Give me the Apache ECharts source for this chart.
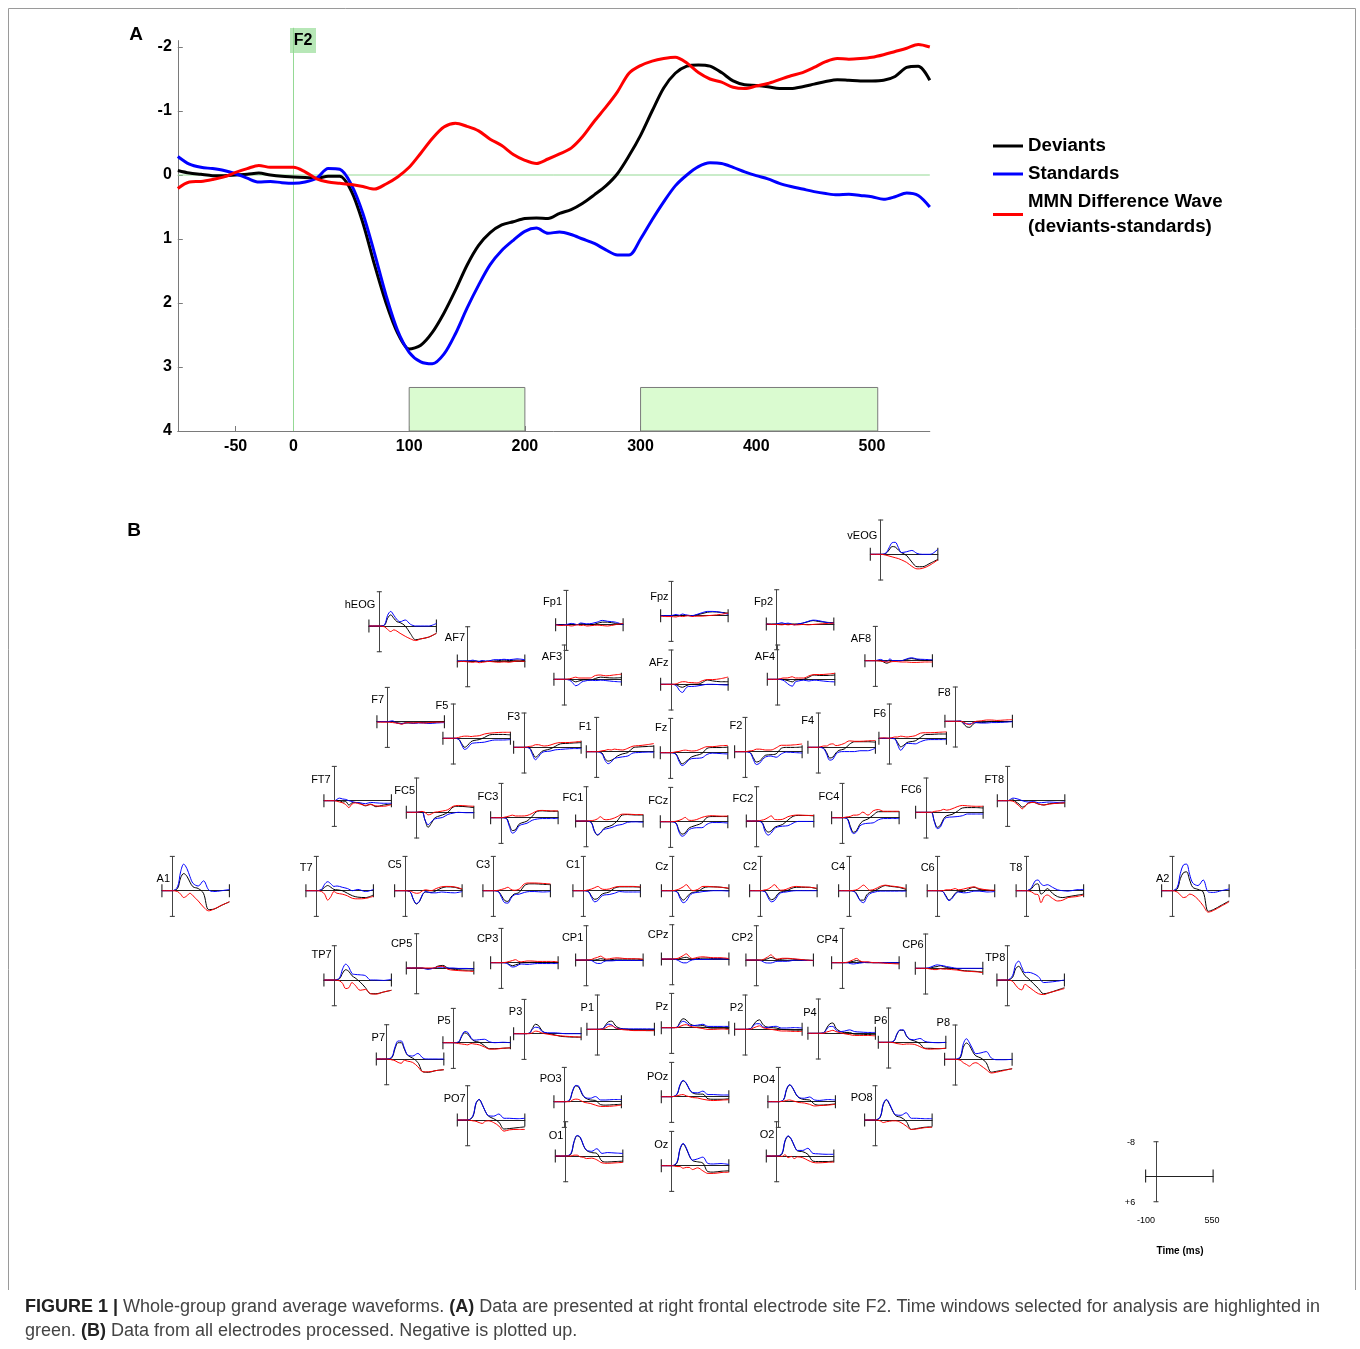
<!DOCTYPE html>
<html><head><meta charset="utf-8">
<script src="https://cdn.jsdelivr.net/npm/echarts@6/dist/echarts.min.js"></script>
<style>html,body{margin:0;padding:0;background:#fff}#c{width:1360px;height:1349px}</style>
</head><body><div id="c"></div><script>
// ---------- Panel A : electrode F2 ----------
const mainTimes = [-100,-90,-80,-70,-60,-50,-40,-30,-20,-10,0,10,20,30,40,50,60,70,80,90,100,110,120,130,140,150,160,170,180,190,200,210,220,230,240,250,260,270,280,290,300,310,320,330,340,350,360,370,380,390,400,410,420,430,440,450,460,470,480,490,500,510,520,530,540,550];
const f2Deviants = [-0.07,-0.03,-0.01,0.01,0.01,0.00,-0.01,-0.03,0.00,0.02,0.03,0.04,0.05,0.02,0.02,0.25,0.75,1.40,2.00,2.47,2.72,2.66,2.46,2.16,1.80,1.41,1.10,0.90,0.78,0.73,0.68,0.67,0.68,0.60,0.54,0.44,0.31,0.17,-0.02,-0.30,-0.62,-1.00,-1.36,-1.59,-1.70,-1.72,-1.70,-1.60,-1.47,-1.41,-1.40,-1.38,-1.35,-1.35,-1.38,-1.42,-1.46,-1.49,-1.48,-1.47,-1.47,-1.48,-1.54,-1.68,-1.70,-1.48];
const f2Standards = [-0.29,-0.17,-0.12,-0.10,-0.07,-0.02,0.05,0.11,0.10,0.12,0.13,0.11,0.05,-0.10,-0.09,0.15,0.60,1.22,1.88,2.43,2.77,2.92,2.95,2.80,2.48,2.08,1.72,1.40,1.18,1.02,0.88,0.83,0.91,0.89,0.93,1.00,1.07,1.17,1.25,1.25,1.00,0.70,0.42,0.17,0.00,-0.13,-0.19,-0.18,-0.12,-0.05,0.01,0.06,0.13,0.18,0.22,0.26,0.29,0.31,0.30,0.32,0.34,0.38,0.34,0.28,0.32,0.50];
const f2MMN = [0.21,0.11,0.10,0.07,0.03,-0.04,-0.10,-0.15,-0.12,-0.12,-0.12,-0.05,0.06,0.11,0.13,0.15,0.18,0.22,0.14,0.03,-0.12,-0.34,-0.57,-0.75,-0.81,-0.76,-0.69,-0.56,-0.46,-0.32,-0.23,-0.18,-0.25,-0.33,-0.42,-0.60,-0.84,-1.06,-1.30,-1.59,-1.71,-1.78,-1.82,-1.84,-1.75,-1.60,-1.50,-1.45,-1.37,-1.35,-1.39,-1.43,-1.49,-1.55,-1.60,-1.68,-1.77,-1.82,-1.81,-1.82,-1.84,-1.88,-1.93,-1.98,-2.04,-2.00];
const analysisWindows = [[100,200],[300,505]];
const yTicks = [-2,-1,0,1,2,3,4];
const xTicks = [-50,0,100,200,300,400,500];

// ---------- Panel B : all electrodes ----------
const electrodes = ['hEOG','vEOG','Fp1','Fpz','Fp2','AF7','AF3','AFz','AF4','AF8','F7','F5','F3','F1','Fz','F2','F4','F6','F8','FT7','FC5','FC3','FC1','FCz','FC2','FC4','FC6','FT8','A1','T7','C5','C3','C1','Cz','C2','C4','C6','T8','A2','TP7','CP5','CP3','CP1','CPz','CP2','CP4','CP6','TP8','P7','P5','P3','P1','Pz','P2','P4','P6','P8','PO7','PO3','POz','PO4','PO8','O1','Oz','O2'];
const miniTimes = [-100,-50,0,50,80,110,140,170,200,250,300,350,400,475,550];
const miniDeviants = [
[0,0,0,-0.2,-1.8,-2.6,-1.8,-1.0,-0.8,0,1.8,3.2,3.0,2.6,1.7],
[0,0,0,-0.2,-1.0,-1.8,-1.7,-1.0,-0.4,0.3,1.8,2.9,2.9,2.1,1.2],
[0,0,0,0,0,0,-0.2,-0.2,0,0,-0.3,-0.6,-0.6,-0.3,-0.2],
[0,0,0,0,0,-0.1,-0.1,0,0,-0.2,-0.5,-0.8,-0.9,-0.8,-0.6],
[0,0,0,0,0,0,0,0,0,-0.2,-0.5,-0.8,-0.6,-0.4,-0.3],
[0,0,0,0,0,0.1,0,0.1,0,0,-0.1,-0.2,-0.1,-0.2,-0.1],
[0,0,0,0,0.3,0.6,0.4,0.2,0.1,0.2,-0.2,-0.5,-0.4,-0.3,-0.4],
[0,0,0,0.1,0.5,0.7,0.4,0.1,0,0,-0.4,-1.0,-0.8,-0.6,-0.6],
[0,0,0,0,0.2,0.4,0.6,0.2,0.1,0,-0.5,-1.0,-0.9,-0.9,-1.0],
[0,0,0,0,0.3,0.6,0.3,0,0,0,-0.3,-0.5,-0.3,-0.1,-0.1],
[0,0,0,0,0.2,0.3,0.4,0.3,0.3,0.3,0.2,0.2,0.3,0.1,0],
[0,0,0,0.2,1.2,2.1,1.6,0.8,0.5,0.3,-0.2,-0.8,-0.9,-0.9,-0.8],
[0,0,0,0.1,1.2,2.3,1.8,1.0,0.7,0.4,-0.2,-0.8,-0.9,-1.0,-1.1],
[0,0,0,0.3,1.6,2.2,2.0,1.6,1.0,0.5,0.2,-0.9,-1.1,-1.2,-1.3],
[0,0,0,0.3,1.6,2.6,2.2,1.6,1.0,0.6,0.2,-1.0,-1.2,-1.2,-1.3],
[0,0,0,0.2,1.4,2.4,2.2,1.4,0.8,0.7,0.5,-0.8,-1.0,-1.0,-1.1],
[0,0,0,0.2,1.2,2.5,2.3,1.3,0.7,0.4,-0.7,-1.3,-1.3,-1.3,-1.2],
[0,0,0,0.1,1.0,2.0,1.6,1.0,0.8,0.6,-0.2,-0.9,-0.9,-1.0,-1.0],
[0,0,0,0,0.6,1.3,1.4,0.7,0.3,0.3,0.2,0,0.1,0.1,0],
[0,0,0,0,0.3,0.2,1.0,0.5,0.4,0.6,1.2,0.8,1.4,1.0,0.8],
[0,0,0,-0.1,1.8,3.5,2.6,1.4,1.0,0.6,0,-1.2,-1.4,-1.3,-1.1],
[0,0,0,0.1,1.6,3.0,2.8,1.6,1.2,0.8,-0.3,-1.5,-1.6,-1.5,-1.5],
[0,0,0,0.3,2.2,3.3,2.8,1.8,1.4,1.0,0,-1.4,-1.5,-1.4,-1.4],
[0,0,0,0.3,2.0,2.9,2.6,1.6,1.2,0.8,0.3,-1.0,-1.2,-1.2,-1.2],
[0,0,0,0.3,1.8,2.6,2.3,1.5,1.2,0.8,-0.2,-1.1,-1.3,-1.3,-1.2],
[0,0,0,0.2,2.0,3.4,3.0,1.6,0.8,0.3,-0.6,-1.4,-1.4,-1.4,-1.4],
[0,0,0,0,2.0,3.5,3.0,1.5,0.8,0.5,-0.2,-1.0,-1.1,-1.1,-1.0],
[0,0,0,-0.2,0.3,0.8,1.5,1.2,0.5,0.4,0.8,1.0,0.7,0.6,0.5],
[0,0,0,-0.5,-3.0,-4.0,-3.4,-2.0,-0.9,-0.5,0.6,4.4,4.3,3.4,2.6],
[0,0,0,-0.2,-0.8,-1.2,-0.8,-0.3,-0.2,0,0.6,1.2,1.5,1.6,1.0],
[0,0,0,0.3,2.0,3.1,2.5,0.9,0.3,0.4,0,-0.6,-0.9,-0.8,-0.3],
[0,0,0,0.2,1.2,2.3,2.5,1.5,0.8,0.4,-1.2,-1.6,-1.6,-1.5,-1.4],
[0,0,0,0.2,1.3,2.0,1.8,1.0,0.6,0.3,-0.6,-0.9,-0.9,-0.9,-0.8],
[0,0,0,0.2,1.4,2.2,1.6,0.8,0.4,0.2,-0.6,-0.9,-0.9,-0.8,-0.5],
[0,0,0,0.2,1.3,2.1,1.8,0.8,0.3,0.1,-0.5,-0.8,-0.8,-0.8,-0.4],
[0,0,0,0.1,1.0,2.2,2.2,1.0,0.4,0,-0.7,-1.2,-1.0,-0.8,-0.3],
[0,0,0,0.2,1.2,2.2,1.6,0.6,0.2,0.2,-0.4,-0.8,-0.3,-0.1,0],
[0,0,0,-0.5,-1.4,-1.6,0.8,0.3,-0.5,0.6,1.4,1.6,1.4,1.1,0.8],
[0,0,0,-0.4,-2.8,-4.2,-4.4,-2.5,-0.8,-0.3,0.3,4.8,4.4,3.4,2.4],
[0,0,0,-0.3,-1.6,-2.4,-2.0,-1.0,-0.5,0.5,1.8,3.2,3.2,2.8,2.4],
[0,0,0,0,0.1,0.2,0.1,0,-0.4,-0.6,0,0.3,0.4,0.5,0.5],
[0,0,0,0,0.4,0.7,0.5,0.3,0,0,-0.1,-0.1,0,0,0],
[0,0,0,0,0,-0.1,-0.3,-0.2,0,-0.1,-0.2,-0.2,-0.2,-0.2,-0.1],
[0,0,0,0,-0.1,-0.3,-0.4,-0.1,0,-0.1,-0.2,-0.2,-0.1,-0.1,0],
[0,0,0,0,-0.1,-0.3,-0.6,-0.4,-0.1,-0.2,-0.3,-0.2,-0.1,0,0.1],
[0,0,0,0,-0.2,-0.3,-0.5,-0.3,-0.1,0,0,0,0,0.1,0.1],
[0,0,0,-0.1,-0.3,-0.4,-0.6,-0.4,-0.2,0,0.2,0.5,0.6,0.7,0.9],
[0,0,0,-0.6,-2.6,-3.2,-2.2,-1.0,-0.4,0.8,2.0,3.2,3.0,2.4,1.8],
[0,0,0,-0.3,-2.4,-3.8,-3.8,-2.3,-0.9,-0.2,0.8,3.0,3.1,2.7,2.5],
[0,0,0,-0.1,-1.4,-2.3,-2.0,-1.0,-0.4,-0.1,0.7,1.4,1.4,1.3,1.2],
[0,0,0,-0.1,-1.2,-2.2,-1.9,-0.8,-0.2,0,0.3,0.6,0.7,0.8,0.8],
[0,0,0,-0.1,-1.0,-1.8,-1.9,-1.0,-0.4,-0.1,0,0.2,0.2,0.3,0.3],
[0,0,0,-0.1,-1.3,-2.1,-1.8,-1.0,-0.6,-0.4,-0.5,0,0.1,0.1,0.2],
[0,0,0,-0.1,-1.0,-1.9,-2.2,-1.2,-0.6,-0.4,-0.3,0,0.1,0.2,0.2],
[0,0,0,-0.1,-1.2,-2.2,-2.4,-1.2,-0.6,-0.2,-0.2,0.2,0.2,0.3,0.3],
[0,0,0,-0.3,-1.9,-2.8,-2.8,-1.5,-0.7,-0.3,0.3,1.4,1.4,1.5,1.4],
[0,0,0,-0.3,-2.8,-3.8,-3.2,-1.8,-0.8,-0.3,0.8,3.0,2.8,2.5,2.2],
[0,0,0,-0.8,-3.8,-4.8,-3.6,-2.0,-0.9,-0.3,0.5,2.1,2.0,1.8,1.6],
[0,0,0,-0.3,-2.4,-3.7,-3.4,-1.8,-0.9,-0.4,-0.3,0.7,0.8,0.7,0.6],
[0,0,0,-0.5,-2.6,-3.7,-3.1,-1.7,-0.9,-0.6,-0.6,0.5,0.6,0.6,0.5],
[0,0,0,-0.4,-2.8,-3.9,-3.1,-1.7,-0.9,-0.5,-0.4,0.6,0.8,0.7,0.5],
[0,0,0,-0.6,-3.6,-4.7,-3.6,-2.1,-1.0,-0.6,0.3,2.2,2.0,1.7,1.6],
[0,0,0,-0.4,-3.2,-4.7,-4.3,-2.5,-1.3,-0.8,-0.6,1.2,1.4,1.3,1.2],
[0,0,0,-0.6,-3.8,-5.1,-4.0,-2.3,-1.2,-0.9,-0.6,1.4,1.5,1.3,1.2],
[0,0,0,-0.4,-3.4,-4.6,-3.9,-2.3,-1.2,-1.0,-0.4,1.2,1.3,1.3,1.2]
];
const miniStandards = [
[0,0,0,-0.3,-2.5,-3.4,-2.5,-1.5,-1.0,-1.4,-0.4,0,0,0,-0.6],
[0,0,0,-0.3,-1.5,-2.7,-2.8,-1.6,-0.4,-0.6,-0.9,-0.2,0,0,-1.2],
[0,0.1,0,-0.3,-0.2,0,-0.4,-0.3,-0.2,-0.3,-0.6,-1.0,-0.8,-0.6,0],
[0,0,0,-0.3,-0.1,-0.4,-0.2,-0.1,0,-0.3,-0.7,-1.0,-1.0,-0.8,-0.3],
[0,0.1,0,-0.3,-0.1,-0.2,0,0.2,0,-0.2,-0.6,-0.9,-0.8,-0.4,-0.2],
[0,0,0,-0.2,0,0.1,-0.1,0,0,-0.3,-0.3,-0.4,-0.3,-0.5,-0.3],
[0,0,0,0.2,0.8,1.5,1.2,0.6,0.4,0.2,0.3,0.2,0.3,0.5,0.6],
[0,0,0,0.3,1.4,1.9,1.0,0.5,0.5,0.4,0.2,0,0,0.1,0.2],
[0,0,0,0.2,0.7,1.3,1.6,0.6,0.4,0.2,0.4,0.2,0.3,0.5,0.6],
[0,0,0,-0.3,0,0.2,-0.4,0,0,0,-0.4,-0.7,-0.4,-0.3,-0.2],
[0,0,0,-0.2,0.2,0.4,0.5,0.3,0.2,0.4,0.3,0.3,0.4,0.3,0.2],
[0,0,0,0.2,1.5,2.6,2.2,1.3,1.1,1.0,0.9,0.6,0.4,0.4,0.3],
[0,0,0,0.2,1.6,2.9,2.2,1.3,1.0,0.9,0.6,0.5,0.4,0.3,0.3],
[0,0,0,0.5,2.0,2.8,2.4,1.6,1.4,1.2,1.0,0.3,0.2,0.1,0.1],
[0,0,0,0.4,2.0,3.0,2.6,1.8,1.4,1.3,1.2,0.4,0.1,0.2,0.3],
[0,0,0,0.3,1.8,3.0,2.7,1.8,1.2,1.0,1.3,0.5,0.1,0.2,0.3],
[0,0,0,0.3,1.6,3.0,2.8,1.6,1.1,1.0,1.0,1.0,0.8,0.8,0.2],
[0,0,0,0.1,1.5,2.8,2.0,1.2,1.2,1.3,0.8,0.4,0.3,0.3,0.3],
[0,0,0,-0.1,0.4,0.6,0.6,0.4,0.3,0.4,0.4,0.3,0.3,0.2,0.1],
[0,0,0,-0.6,-0.4,-0.3,0,0.2,0.4,0.5,0.7,0.4,0.5,0.6,0.6],
[0,0,0,-0.2,1.8,2.9,2.2,1.6,1.4,1.2,0.5,0.2,0,0.1,0.1],
[0,0,0,0.2,2.0,3.6,3.2,2.0,1.6,1.3,0.6,0.3,0.2,0.2,0.2],
[0,0,0,0.4,2.4,3.2,2.7,2.0,1.8,1.5,1.0,0.8,0.3,0.2,0.3],
[0,0,0,0.4,2.4,3.4,3.0,2.0,1.6,1.4,1.4,0.6,0.2,0.2,0.3],
[0,0,0,0.4,2.4,3.3,2.8,1.8,1.4,1.2,1.1,0.5,0.1,0.1,0.1],
[0,0,0,0.3,2.4,3.7,3.3,2.0,1.5,1.3,1.2,0.5,0.2,0.2,0.2],
[0,0,0,0,2.2,3.8,3.4,1.8,1.2,1.1,1.0,0.8,0.4,0.4,0.4],
[0,0,0,-0.6,-0.5,-0.3,0,0.2,0.3,0.2,0.5,0.4,0.3,0.4,0.3],
[0,0,0,-0.9,-4.4,-6.2,-5.2,-3.3,-1.7,-1.1,-2.3,-0.2,0.2,0,-0.3],
[0,0,0,-0.3,-1.5,-2.1,-1.6,-1.0,-1.1,-0.8,-0.5,0,-0.3,0.2,-0.3],
[0,0,0,0.3,2.0,3.0,2.4,0.8,0.2,0.5,0.5,0.3,0.4,0.5,0.2],
[0,0,0,0.3,1.6,2.8,2.9,1.8,1.0,0.8,0.4,0.2,0.2,0.3,0.2],
[0,0,0,0.3,1.6,2.6,2.3,1.4,1.0,0.9,0.6,0.2,0.3,0.3,0.3],
[0,0,0,0.3,1.8,2.8,2.4,1.2,0.6,0.4,0.2,0.1,0,0,0.1],
[0,0,0,0.3,1.7,2.6,2.3,1.2,0.5,0.3,0.1,0,0,0,0],
[0,0,0,0.2,1.2,2.4,2.8,1.6,0.7,0.3,0.1,0.1,0.1,0.1,0.1],
[0,0,0,0.2,1.4,2.3,1.8,0.8,0.3,0.5,0.4,0.1,0.1,0.3,0.2],
[0,0,0,-0.8,-2.2,-2.5,-1.6,-1.2,-1.4,-0.8,-0.2,0,0.1,-0.2,-0.3],
[0,0,0,-0.8,-4.0,-6.0,-6.2,-3.8,-1.8,-1.2,-2.5,0.3,0.4,0,-0.4],
[0,0,0,-0.5,-2.6,-3.7,-3.0,-1.5,-1.3,-1.2,-1.0,0,0,0.1,-0.2],
[0,0,0,0,0.2,0.3,0.2,0,-0.2,-0.2,0,0,0.1,0.1,0.2],
[0,0,0,0.1,0.6,1.0,0.9,0.5,0.3,0.4,0.3,0.2,0.2,0.2,0.2],
[0,0,0,0.1,0.5,0.8,0.8,0.4,0.2,0.2,0.1,0.1,0.1,0.1,0.1],
[0,0,0,0.2,0.6,0.9,0.9,0.5,0.2,0.1,0.1,0.1,0,0,0],
[0,0,0,0.2,0.6,0.7,0.7,0.5,0.3,0.3,0.3,0.1,0,0.1,0.1],
[0,0,0,0,0.2,0.3,0.2,0.1,0,-0.1,0,0,0,0,0],
[0,0,0,-0.3,-0.6,-0.8,-0.7,-0.6,-0.4,-0.2,0,0,0,0,0],
[0,0,0,-1.0,-3.6,-4.4,-3.0,-1.7,-1.8,-1.5,-0.8,0.6,0.5,0.3,0],
[0,0,0,-0.5,-2.8,-4.2,-4.2,-2.6,-1.0,-0.7,-1.3,-0.2,0,0,0],
[0,0,0,-0.2,-1.6,-2.6,-2.4,-1.2,-0.6,-0.7,-0.8,-0.2,0,-0.1,0],
[0,0,0,-0.1,-1.0,-1.5,-1.4,-0.6,-0.3,-0.2,-0.2,-0.1,0,0,0],
[0,0,0,-0.1,-0.8,-1.2,-1.0,-0.4,-0.2,-0.1,-0.1,-0.1,-0.1,-0.1,-0.1],
[0,0,0,-0.1,-1.0,-1.5,-1.2,-0.6,-0.5,-0.6,-0.8,-0.3,-0.3,-0.3,-0.3],
[0,0,0,-0.1,-0.8,-1.3,-1.3,-0.6,-0.4,-0.6,-0.7,-0.3,-0.3,-0.4,-0.3],
[0,0,0,-0.1,-0.9,-1.6,-1.6,-0.8,-0.4,-0.5,-0.8,-0.4,-0.3,-0.2,-0.2],
[0,0,0,-0.3,-2.0,-2.9,-2.9,-1.6,-0.8,-0.6,-0.9,-0.2,0,0.1,0],
[0,0,0,-0.6,-3.6,-4.8,-3.8,-2.4,-1.3,-1.5,-1.8,-0.3,0.1,0.1,0],
[0,0,0,-1.0,-4.0,-4.8,-3.6,-2.0,-1.0,-0.9,-1.4,-0.4,-0.4,-0.3,-0.4],
[0,0,0,-0.4,-2.6,-3.8,-3.6,-2.0,-1.0,-0.8,-1.2,-0.4,-0.4,-0.5,-0.5],
[0,0,0,-0.6,-2.8,-3.8,-3.2,-1.8,-1.0,-0.9,-1.3,-0.5,-0.5,-0.4,-0.4],
[0,0,0,-0.5,-3.0,-4.0,-3.2,-1.8,-1.0,-0.8,-1.1,-0.4,-0.3,-0.5,-0.4],
[0,0,0,-0.8,-3.8,-4.8,-3.8,-2.2,-1.2,-1.1,-1.7,-0.4,-0.4,-0.3,-0.3],
[0,0,0,-0.6,-3.4,-4.8,-4.4,-2.6,-1.4,-1.1,-1.7,-0.6,-0.8,-0.7,-0.6],
[0,0,0,-0.8,-4.0,-5.2,-4.2,-2.4,-1.3,-1.6,-2.0,-0.5,-0.4,-0.5,-0.3],
[0,0,0,-0.6,-3.6,-4.7,-4.0,-2.4,-1.3,-1.3,-1.8,-0.6,-0.5,-0.4,-0.4]
];
const miniMMN = [
[0,0,0,0.2,0.8,1.3,0.9,1.2,1.7,2.4,3.0,3.4,3.0,2.6,1.7],
[0,0,0,0.2,0.4,0.6,0.8,1.0,1.3,1.9,2.8,3.4,3.3,2.5,1.3],
[0,0.2,0.1,0.3,0.2,0,0.2,0.1,0.3,0.2,0.1,0.2,0.3,0,-0.3],
[0.1,0.2,0.2,0.3,0.1,0.2,0.1,0,0.2,0.1,0.1,0,-0.1,-0.3,-0.6],
[0,0.1,0.1,0.2,0.1,0.2,0.1,0.2,0.2,0.1,0.2,0.1,0,-0.1,-0.2],
[0.2,0.1,0.2,0.3,0.2,0.4,0.3,0.2,0.1,0.2,0.3,0.2,0.3,0,0.1],
[0,0,0,-0.1,-0.3,-0.5,-0.3,-0.3,-0.3,-0.3,-0.9,-1.0,-0.8,-1.0,-1.2],
[0,0,0,-0.1,-0.4,-0.6,-0.6,-0.4,-0.4,-0.3,-0.8,-1.1,-1.1,-1.3,-1.7],
[0,0,0,-0.3,-0.3,-0.4,-0.6,-0.3,-0.3,-0.3,-0.8,-1.1,-1.1,-1.2,-1.4],
[0,0,0,0.1,0.2,0.3,0.3,0.2,0.2,0.3,0.3,0.4,0.4,0.3,0.3],
[0.1,0.1,0.1,0.2,0.3,0.4,0.6,0.3,0.2,0.3,0.2,0.3,0.2,0.1,0.1],
[0,0,0,-0.2,-0.4,-0.5,-0.5,-0.4,-0.5,-0.6,-1.0,-1.2,-1.3,-1.4,-1.4],
[0,0,0,-0.2,-0.3,-0.6,-0.6,-0.4,-0.3,-0.5,-0.9,-1.1,-1.1,-1.2,-1.4],
[0,0,0,-0.2,-0.3,-0.5,-0.4,-0.6,-0.5,-0.4,-0.8,-1.3,-1.4,-1.6,-1.9],
[0,0,0,-0.2,-0.3,-0.5,-0.6,-0.5,-0.4,-0.5,-1.0,-1.4,-1.4,-1.6,-1.7],
[0,0,0,-0.2,-0.3,-0.6,-0.6,-0.5,-0.4,-0.4,-0.9,-1.5,-1.5,-1.6,-1.8],
[0,0,0,-0.3,-0.3,-0.7,-0.8,-0.4,-0.5,-0.9,-1.5,-1.4,-1.4,-1.5,-1.6],
[0,-0.1,0,-0.3,-0.3,-0.5,-0.4,-0.3,-0.4,-0.6,-1.2,-1.3,-1.3,-1.4,-1.5],
[0,0,0,0,0.2,0.6,0.8,0.3,0,-0.1,-0.3,-0.3,-0.2,-0.3,-0.4],
[0,0,0,0.3,0.5,0.9,1.6,0.8,0.5,0.8,1.1,0.9,1.2,1.3,0.9],
[0,0,0,-0.2,0,0.6,0.4,0,-0.1,-0.3,-0.6,-1.4,-1.6,-1.5,-1.4],
[0,0,0,-0.2,-0.4,-0.6,-0.4,-0.4,-0.4,-0.5,-1.0,-1.6,-1.7,-1.6,-1.6],
[0,0,0,-0.1,-0.2,-0.5,-1.0,-0.4,-0.3,-0.5,-1.0,-1.6,-1.6,-1.5,-1.5],
[0,0,0,-0.1,-0.3,-0.6,-1.0,-0.4,-0.3,-0.5,-1.0,-1.3,-1.4,-1.3,-1.3],
[0,0,0,-0.2,-0.4,-0.8,-1.2,-0.4,-0.3,-0.4,-1.0,-1.3,-1.4,-1.3,-1.3],
[0,0,0,-0.2,-0.3,-0.6,-0.6,-0.8,-1.3,-0.6,-1.6,-1.9,-1.5,-1.5,-1.5],
[0,0,0,0,-0.2,-0.3,-0.4,-0.7,-0.5,-0.8,-1.3,-1.6,-1.5,-1.4,-1.4],
[0,0,0,0.1,0.6,1.2,1.9,1.2,0.6,0.4,0.8,1.0,0.8,0.6,0.5],
[0,0,0,0.2,0.8,1.6,1.2,0.6,1.2,2.4,3.8,4.7,4.3,3.4,2.6],
[0,0,0,0.2,0.8,2.2,1.4,0.2,0.6,0.8,1.2,1.8,1.9,1.8,1.3],
[0,0,0,0.1,0.4,0.6,0.5,0,-0.2,0,-0.5,-0.9,-1.0,-0.9,-0.4],
[0,0,0,-0.1,-0.3,-0.5,-0.8,-0.3,-0.1,-0.4,-1.6,-1.8,-1.8,-1.7,-1.6],
[0,0,0,-0.2,-0.4,-0.7,-1.0,-0.5,-0.3,-0.4,-0.8,-1.0,-1.0,-1.0,-0.9],
[0,0,0,-0.2,-0.5,-0.9,-1.4,-0.6,0,-0.3,-1.0,-1.0,-0.9,-0.8,-0.6],
[0,0,0,-0.2,-0.4,-0.9,-1.4,-0.6,-0.1,-0.3,-0.8,-1.0,-0.9,-0.8,-0.6],
[0,0,0,-0.1,-0.3,-0.8,-1.3,-0.7,-0.1,-0.4,-1.0,-1.3,-1.1,-0.9,-0.5],
[0,0,0,0,-0.2,-0.2,-0.3,-0.5,-0.2,-0.4,-0.7,-0.9,-0.5,-0.2,-0.1],
[0,0,0,0.3,0.8,0.9,2.8,1.4,1.0,1.8,2.4,2.2,1.6,1.4,1.0],
[0,0,0,0.3,1.0,1.6,1.4,0.8,1.0,2.0,3.5,5.0,4.6,3.6,2.6],
[0,0,0,0.2,0.8,2.0,1.8,0.6,1.2,2.4,2.2,3.2,3.3,2.8,2.4],
[0,0,0,0,0,0,0,0,-0.3,-0.4,0.3,0.5,0.6,0.7,0.8],
[0,0,0,-0.1,-0.3,-0.5,-0.7,-0.3,-0.2,-0.4,-0.4,-0.3,-0.3,-0.3,-0.2],
[0,0,0,-0.1,-0.4,-0.6,-0.9,-0.5,-0.2,-0.4,-0.5,-0.4,-0.3,-0.3,-0.2],
[0,0,0,-0.1,-0.4,-0.8,-1.2,-0.5,-0.1,-0.4,-0.5,-0.4,-0.3,-0.3,-0.1],
[0,0,0,0,-0.3,-0.7,-1.2,-0.6,-0.2,-0.4,-0.4,-0.3,-0.2,0,0.1],
[0,0,0,-0.1,-0.4,-0.7,-1.0,-0.5,-0.2,-0.2,0,0,0.1,0.2,0.3],
[0,0,0,0.2,0.3,0.3,0.1,0.2,0.2,0.3,0.4,0.6,0.7,0.8,1.0],
[0,0,0,0.3,1.2,2.0,2.3,1.0,1.5,2.4,3.2,3.4,3.0,2.5,2.0],
[0,0,0,0.2,0.4,0.8,1.0,0.3,0.5,0.8,1.8,3.0,3.0,2.7,2.5],
[0,0,0,0.2,0.3,0.4,0.5,0.2,0.3,0.5,1.0,1.5,1.5,1.3,1.2],
[0,0,0,0,-0.2,-0.6,-0.5,-0.2,0,0.2,0.4,0.5,0.6,0.7,0.8],
[0,0,0,0,-0.3,-0.7,-0.8,-0.4,-0.1,0.1,0.2,0.3,0.3,0.3,0.3],
[0,0,0,0,-0.3,-0.6,-0.7,-0.4,-0.2,0,0.2,0.4,0.4,0.3,0.4],
[0,0,0,0,-0.3,-0.6,-0.8,-0.4,-0.2,0,0.2,0.4,0.4,0.5,0.5],
[0,0,0,0,-0.3,-0.5,-0.7,-0.4,-0.2,0.1,0.3,0.5,0.5,0.5,0.6],
[0,0,0,0.1,0.3,0.4,0.5,0.4,0.4,0.5,1.0,1.5,1.6,1.5,1.4],
[0,0,0,0.2,0.8,1.2,1.6,1.0,0.8,1.5,2.4,3.2,3.0,2.6,2.2],
[0,0,0,0.2,0.3,0.6,0.8,0.3,0.2,0.6,1.4,2.6,2.3,2.2,2.2],
[0,0,0,0,-0.4,-0.6,-0.5,-0.1,0.2,0.4,0.8,1.1,1.1,1.0,0.8],
[0,0,0,-0.2,-0.4,-0.5,-0.2,0,0.2,0.3,0.6,0.8,0.9,0.8,0.7],
[0,0,0,-0.1,-0.3,-0.4,-0.2,0,0.2,0.3,0.6,1.0,0.9,0.8,0.6],
[0,0,0,0.2,0.6,0.4,0.3,0.2,0.2,0.6,1.4,2.2,2.1,1.8,1.7],
[0,0,0,0,-0.2,-0.2,0.2,0.3,0.6,0.5,0.9,1.6,1.7,1.6,1.5],
[0,0,0,0.2,0.2,0.6,0.4,0.4,0.9,0.5,1.2,1.8,1.8,1.6,1.5],
[0,0,0,0.1,-0.3,0.4,0.1,0.6,0.2,0.4,1.0,1.5,1.6,1.5,1.4]
];

// ---------- layout (page positions): [x of time 0, y of 0 µV, label right x, label mid y] ----------
const layout = {
 hEOG:[379.3,626,375.3,605], vEOG:[880.7,554.3,877.3,536],
 Fp1:[566,624.7,562,602.3], Fpz:[671,615.7,668.5,596.7], Fp2:[776.7,624,773,602.3],
 AF7:[467.7,661,465,638.3], AF3:[564.3,679.3,562,657.3], AFz:[671,684.3,668.5,662.7], AF4:[777.7,679.3,775,656.7], AF8:[875.3,660.7,871,639],
 F7:[387.3,721.7,384,700], F5:[453.3,738.3,448.3,705.7], F3:[524,747.3,520,717.3], F1:[596.7,751.7,591.7,727.3], Fz:[670.7,752.7,667.3,728.3],
 F2:[745,751.7,742.3,726], F4:[818.3,747.3,814,720.7], F6:[889.3,738.3,886,714], F8:[955.3,721.3,950.7,693.3],
 FT7:[334.3,800.7,330.7,780], FC5:[416.7,812.3,415,791], FC3:[501,817.7,498.3,797.3], FC1:[586,821,583.3,798.3], FCz:[670.7,821.7,668.3,801],
 FC2:[756.7,821,753.3,799], FC4:[842,817.7,839.3,797.3], FC6:[926,812.3,921.7,790], FT8:[1007.7,800.7,1004,780],
 A1:[172.3,890.7,170,879.3], T7:[316.3,890.7,312.7,867.7], C5:[405,890.7,401.7,865], C3:[493.3,890.7,490,865], C1:[583.3,890.7,580,865],
 Cz:[671.8,890.7,668.6,866.7], C2:[760,890.7,757,866.7], C4:[849,890.7,845,866.7], C6:[937.6,890.7,934.7,868], T8:[1026.5,890.7,1022.4,868.3], A2:[1172,890.7,1169.4,879.3],
 TP7:[334.3,980,331.7,955], CP5:[416.7,968,412.3,944], CP3:[501,962.7,498.3,939], CP1:[586,960,583.3,937.7], CPz:[671.8,959,668.6,935],
 CP2:[756.3,960,753,938.3], CP4:[842,962.7,838,940], CP6:[925.7,968.3,923.7,945], TP8:[1007.3,980,1005.3,958.3],
 P7:[386.7,1059,385,1038.3], P5:[453.3,1042.7,450.7,1021], P3:[524,1033.7,522.3,1012.3], P1:[597.3,1029.3,594,1008.3], Pz:[671.7,1027.7,668.3,1006.7],
 P2:[745,1029.3,743.3,1008.3], P4:[818.3,1033.3,816.7,1013.3], P6:[888.7,1042.3,887.3,1021], P8:[955,1059.3,950,1022.7],
 PO7:[467.7,1120,465.7,1099], PO3:[564.3,1101.7,561.7,1079.3], POz:[671.7,1096.7,668.3,1077.3], PO4:[778.3,1101.7,775,1080], PO8:[875,1120,872.7,1098.3],
 O1:[565.7,1156,563.3,1135.7], Oz:[671.7,1165.7,668.3,1145], O2:[776.7,1156,774.3,1135]
};

const FONT = '"Liberation Sans", Arial, Helvetica, sans-serif';
const GREEN_LINE = '#94d994';
const X_MIN = -100, X_MAX = 550, Y_MIN = -2.1, Y_MAX = 4, Y_TAG_TOP = -2.3;
const chart = echarts.init(document.getElementById('c'), null, {renderer:'canvas', width:1360, height:1349});
const pair = (ts, vs) => ts.map((t, i) => [t, vs[i]]);
const grid = [], xAxis = [], yAxis = [], series = [], graphic = [];

// main grid
grid.push({left:177.8, top:40.6, width:752, height:390.4});
xAxis.push({type:'value', gridIndex:0, min:X_MIN, max:X_MAX,
  axisLine:{onZero:false, lineStyle:{color:'#7a7a7a', width:1}},
  axisTick:{show:true, inside:true, length:5, customValues:xTicks, lineStyle:{color:'#7a7a7a'}},
  axisLabel:{customValues:xTicks, fontFamily:FONT, fontWeight:'bold', fontSize:16, color:'#000', margin:8},
  splitLine:{show:false}});
yAxis.push({type:'value', gridIndex:0, inverse:true, min:Y_MIN, max:Y_MAX,
  axisLine:{show:true, onZero:false, lineStyle:{color:'#7a7a7a', width:1}},
  axisTick:{show:true, inside:true, length:5, customValues:yTicks, lineStyle:{color:'#7a7a7a'}},
  axisLabel:{customValues:yTicks, fontFamily:FONT, fontWeight:'bold', fontSize:16, color:'#000', margin:6},
  splitLine:{show:false}});

// green reference lines (zero µV and stimulus onset) as plain line series
const refLine = (data) => ({type:'line', xAxisIndex:0, yAxisIndex:0, data, silent:true, showSymbol:false, clip:false,
  lineStyle:{color:GREEN_LINE, width:1}, itemStyle:{color:GREEN_LINE}, z:1, emphasis:{disabled:true}});
series.push(refLine([[X_MIN,0],[X_MAX,0]]));
series.push(refLine([[0,Y_TAG_TOP],[0,Y_MAX]]));

const MMN_NAME = 'MMN Difference Wave\n(deviants-standards)';
series.push({name:'Deviants', type:'line', xAxisIndex:0, yAxisIndex:0, data:pair(mainTimes, f2Deviants),
  showSymbol:false, smooth:0.3, lineStyle:{color:'#000', width:3}, itemStyle:{color:'#000'}, z:3,
  markArea:{silent:true, itemStyle:{color:'#dafbd0', borderColor:'#7a7a7a', borderWidth:1, opacity:1},
    data: analysisWindows.map(w => [{xAxis:w[0], yAxis:3.32},{xAxis:w[1], yAxis:Y_MAX}])}
});
series.push({name:'Standards', type:'line', xAxisIndex:0, yAxisIndex:0, data:pair(mainTimes, f2Standards),
  showSymbol:false, smooth:0.3, lineStyle:{color:'#0000ff', width:3}, itemStyle:{color:'#0000ff'}, z:4});
series.push({name:MMN_NAME, type:'line', xAxisIndex:0, yAxisIndex:0, data:pair(mainTimes, f2MMN),
  showSymbol:false, smooth:0.3, lineStyle:{color:'#ff0000', width:3}, itemStyle:{color:'#ff0000'}, z:5});

// mini plots
const MW = 67.5, MH = 60;
function miniAxes(gi, vx, hy){
  grid.push({left: vx - MW*100/650, top: hy - MH*8/14, width: MW, height: MH});
  xAxis.push({type:'value', gridIndex:gi, min:-100, max:550,
    axisLine:{show:true, onZero:true, symbol:['rect','rect'], symbolSize:[13,1.1], lineStyle:{color:'#222', width:1}},
    axisTick:{show:false}, axisLabel:{show:false}, splitLine:{show:false}});
  yAxis.push({type:'value', gridIndex:gi, inverse:true, min:-8, max:6,
    axisLine:{show:true, onZero:true, symbol:['rect','rect'], symbolSize:[5,1.1], lineStyle:{color:'#444', width:1}},
    axisTick:{show:false}, axisLabel:{show:false}, splitLine:{show:false}});
}
const miniSets = [[miniDeviants,'#000000','dev'],[miniStandards,'#0000ff','std'],[miniMMN,'#ff0000','mmn']];
electrodes.forEach((name, i) => {
  const gi = i + 1;
  const [vx, hy, lx, ly] = layout[name];
  miniAxes(gi, vx, hy);
  miniSets.forEach(([arr, col, k]) => {
    series.push({name:name+'-'+k, type:'line', xAxisIndex:gi, yAxisIndex:gi, data:pair(miniTimes, arr[i]),
      showSymbol:false, smooth:0.35, silent:true, lineStyle:{color:col, width:1}, itemStyle:{color:col}});
  });
  graphic.push({type:'text', silent:true, style:{text:name, x:lx, y:ly, align:'right', verticalAlign:'middle',
    textAlign:'right', textVerticalAlign:'middle', fontFamily:FONT, fontSize:11, fill:'#000'}});
});
// scale bar (empty axes)
miniAxes(electrodes.length + 1, 1156, 1176);

const smallText = (t, x, y, opts) => ({type:'text', silent:true, style:Object.assign({text:t, x:x, y:y, align:'center', verticalAlign:'middle',
  textAlign:'center', textVerticalAlign:'middle', fontFamily:FONT, fontSize:9, fill:'#000'}, opts||{})});
graphic.push(smallText('-8', 1131, 1143));
graphic.push(smallText('+6', 1130, 1203));
graphic.push(smallText('-100', 1146, 1221));
graphic.push(smallText('550', 1212, 1221));
graphic.push(smallText('Time (ms)', 1180, 1251, {fontSize:10, fontWeight:'bold'}));

// panel letters
graphic.push(smallText('A', 136, 35, {fontSize:19, fontWeight:'bold'}));
graphic.push(smallText('B', 134, 531, {fontSize:19, fontWeight:'bold'}));
// F2 tag
graphic.push({type:'rect', silent:true, z:0, shape:{x:290, y:28, width:26, height:25}, style:{fill:'#b7e7b7'}});
graphic.push(smallText('F2', 303, 41, {fontSize:16, fontWeight:'bold'}));
// frame
graphic.push({type:'polyline', silent:true, shape:{points:[[8.5,1290],[8.5,8.5],[1355.5,8.5],[1355.5,1290]]}, style:{stroke:'#9a9a9a', lineWidth:1, fill:null}});
// caption
const capRich = {b:{fontWeight:'bold', fill:'#222', fontSize:18, fontFamily:FONT}};
graphic.push({type:'text', silent:true, style:{x:25, y:1307, verticalAlign:'middle', textVerticalAlign:'middle', fontFamily:FONT, fontSize:18, fill:'#444',
  text:'{b|FIGURE 1 |} Whole-group grand average waveforms. {b|(A)} Data are presented at right frontal electrode site F2. Time windows selected for analysis are highlighted in', rich:capRich}});
graphic.push({type:'text', silent:true, style:{x:25, y:1331, verticalAlign:'middle', textVerticalAlign:'middle', fontFamily:FONT, fontSize:18, fill:'#444',
  text:'green. {b|(B)} Data from all electrodes processed. Negative is plotted up.', rich:capRich}});

chart.setOption({
  animation:false,
  backgroundColor:'#fff',
  grid, xAxis, yAxis, series, graphic,
  legend:{data:['Deviants','Standards',MMN_NAME], orient:'vertical', left:993, top:133.5, padding:0, itemWidth:30, itemHeight:3, itemGap:3,
    icon:'rect', selectedMode:false,
    textStyle:{fontFamily:FONT, fontWeight:'bold', fontSize:18.7, color:'#000', lineHeight:25}}
});
</script></body></html>
